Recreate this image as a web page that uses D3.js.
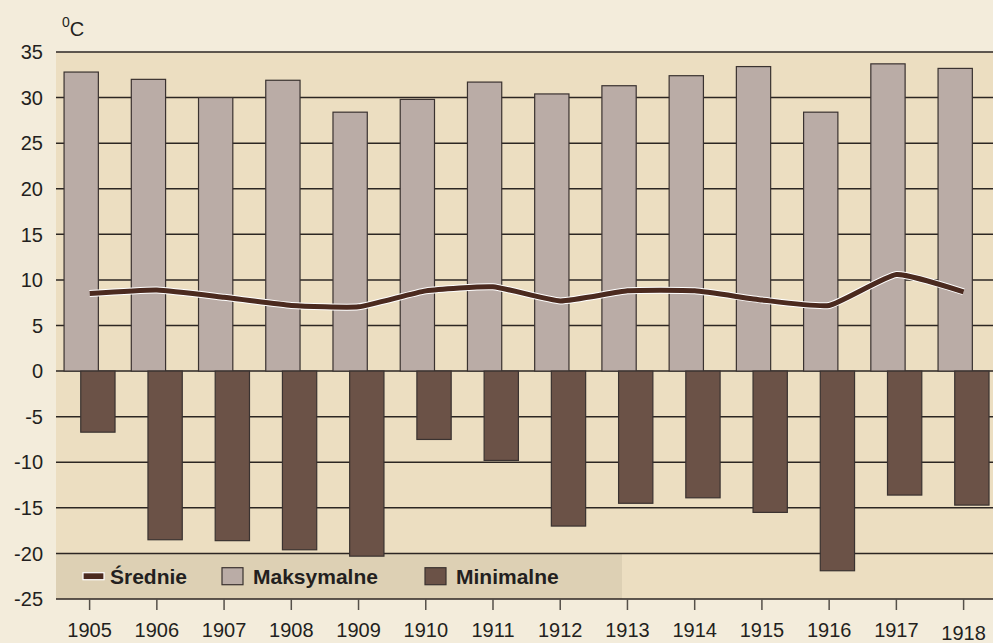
<!DOCTYPE html>
<html>
<head>
<meta charset="utf-8">
<script src="https://cdn.jsdelivr.net/npm/d3@7"></script>
<style>
    html, body { margin: 0; padding: 0; background: #f3ecdb; }
    svg { display: block; font-family: "Liberation Sans", Arial, sans-serif; }
</style>
</head>
<body>
<svg id="chart" width="993" height="643"></svg>
<script>
    // data
    const years = ['1905', '1906', '1907', '1908', '1909', '1910', '1911', '1912', '1913', '1914', '1915', '1916', '1917', '1918'];
    const maxTemps = [32.8, 32.0, 30.0, 31.9, 28.4, 29.8, 31.7, 30.4, 31.3, 32.4, 33.4, 28.4, 33.7, 33.2];
    const minTemps = [-6.7, -18.5, -18.6, -19.6, -20.3, -7.5, -9.8, -17.0, -14.5, -13.9, -15.5, -21.9, -13.6, -14.7];
    const meanTemps = [8.5, 8.9, 8.1, 7.2, 7.05, 8.8, 9.25, 7.7, 8.8, 8.8, 7.8, 7.2, 10.6, 8.7];
    const yTicks = [-25, -20, -15, -10, -5, 0, 5, 10, 15, 20, 25, 30, 35];
    const seriesNames = ['Średnie', 'Maksymalne', 'Minimalne'];
    const unitLabel = 'C';

    const colors = {
        page: '#f3ecdb',
        plot: '#ecdec1',
        legend: '#ddd0b4',
        grid: '#2c2623',
        max: '#baaca6',
        min: '#6b5247',
        mean: '#4b2a1f',
        text: '#231f20'
    };

    //#region svg setup
    const svg = d3.select('#chart');
    const W = +svg.attr('width');
    const H = +svg.attr('height');

    const chartMargins = { left: 56, top: 52, bottom: 44 };
    const step = 67.23;
    const w = step * years.length;
    const h = H - chartMargins.top - chartMargins.bottom;
    //#endregion

    //#region scales
    const xScale = d3.scaleBand()
        .domain(years)
        .range([0, w])
        .padding(0);

    const yScale = d3.scaleLinear()
        .domain([d3.min(yTicks), d3.max(yTicks)])
        .range([h, 0]);

    // max bar sits a bit left of the year tick, min bar a bit right
    const subScale = d3.scalePoint()
        .domain(['max', 'min'])
        .range([xScale.bandwidth() * 0.375, xScale.bandwidth() * 0.623]);
    const barWidth = xScale.bandwidth() * 0.51;
    //#endregion

    const rows = years.map((y, i) => ({ year: y, max: maxTemps[i], min: minTemps[i], mean: meanTemps[i] }));

    const chartGroup = svg.append('g')
        .attr('transform', `translate(${chartMargins.left},${chartMargins.top})`);

    chartGroup.append('rect')
        .attr('x', 0).attr('y', 0)
        .attr('width', W - chartMargins.left).attr('height', h)
        .attr('fill', colors.plot);

    // legend band along the bottom
    chartGroup.append('rect')
        .attr('x', 0)
        .attr('y', yScale(-20))
        .attr('width', 566)
        .attr('height', yScale(-25) - yScale(-20))
        .attr('fill', colors.legend);

    // gridlines
    chartGroup.append('g')
        .selectAll('line')
        .data(yTicks)
        .enter()
        .append('line')
        .attr('x1', 0)
        .attr('x2', W - chartMargins.left)
        .attr('y1', d => yScale(d))
        .attr('y2', d => yScale(d))
        .attr('stroke', colors.grid)
        .attr('stroke-width', 1.5);

    // y labels
    svg.append('g')
        .selectAll('text')
        .data(yTicks)
        .enter()
        .append('text')
        .attr('x', 43)
        .attr('y', d => chartMargins.top + yScale(d))
        .attr('dy', '0.36em')
        .attr('text-anchor', 'end')
        .attr('fill', colors.text)
        .style('font-size', '20px')
        .text(d => d);

    // unit label
    const unit = svg.append('text')
        .attr('x', 62)
        .attr('y', 33)
        .attr('fill', colors.text)
        .style('font-size', '20px');
    unit.append('tspan')
        .attr('dy', '-0.45em')
        .style('font-size', '14px')
        .text('0');
    unit.append('tspan')
        .attr('dy', '0.45em')
        .text(unitLabel);

    //#region bars
    const barGroups = chartGroup.append('g')
        .selectAll('g')
        .data(rows)
        .enter()
        .append('g')
        .attr('transform', d => `translate(${xScale(d.year)},0)`);

    barGroups.append('rect')
        .attr('x', subScale('max') - barWidth / 2)
        .attr('y', d => yScale(d.max))
        .attr('width', barWidth)
        .attr('height', d => yScale(0) - yScale(d.max))
        .attr('fill', colors.max)
        .attr('stroke', '#3a3230')
        .attr('stroke-width', 1.2);

    barGroups.append('rect')
        .attr('x', subScale('min') - barWidth / 2)
        .attr('y', yScale(0))
        .attr('width', barWidth)
        .attr('height', d => yScale(d.min) - yScale(0))
        .attr('fill', colors.min)
        .attr('stroke', '#3a3230')
        .attr('stroke-width', 1.2);
    //#endregion

    //#region mean line
    const line = d3.line()
        .x(d => xScale(d.year) + xScale.bandwidth() / 2)
        .y(d => yScale(d.mean))
        .curve(d3.curveCardinal.tension(0.55));

    chartGroup.append('path')
        .datum(rows)
        .attr('d', line)
        .attr('fill', 'none')
        .attr('stroke', '#ffffff')
        .attr('stroke-width', 7);

    chartGroup.append('path')
        .datum(rows)
        .attr('d', line)
        .attr('fill', 'none')
        .attr('stroke', colors.mean)
        .attr('stroke-width', 5);
    //#endregion

    //#region x axis
    const xAxis = d3.axisBottom(xScale).tickSize(11).tickPadding(13);
    const xAxisGroup = chartGroup.append('g')
        .attr('transform', `translate(0, ${h})`)
        .call(xAxis);
    xAxisGroup.select('.domain').remove();
    xAxisGroup.selectAll('.tick line')
        .attr('stroke', '#555049')
        .attr('stroke-width', 1.5);
    xAxisGroup.selectAll('.tick text')
        .attr('fill', colors.text)
        .style('font-size', '20px')
        .style('font-family', '"Liberation Sans", Arial, sans-serif')
        .attr('dy', (d, i) => i === years.length - 1 ? '0.86em' : '0.71em');
    //#endregion

    //#region legend
    const legendY = chartMargins.top + (yScale(-20) + yScale(-25)) / 2;
    const legend = svg.append('g').attr('transform', `translate(0, ${legendY})`);

    legend.append('rect')
        .attr('x', 83).attr('y', -3.5)
        .attr('width', 21).attr('height', 7)
        .attr('fill', colors.mean)
        .attr('stroke', '#ffffff')
        .attr('stroke-width', 1.2);

    legend.append('rect')
        .attr('x', 222).attr('y', -8.5)
        .attr('width', 21).attr('height', 17)
        .attr('fill', colors.max)
        .attr('stroke', '#3a3230')
        .attr('stroke-width', 1.2);

    legend.append('rect')
        .attr('x', 425).attr('y', -8.5)
        .attr('width', 21).attr('height', 17)
        .attr('fill', colors.min)
        .attr('stroke', '#3a3230')
        .attr('stroke-width', 1.2);

    legend.selectAll('text.leg')
        .data(seriesNames)
        .enter()
        .append('text')
        .classed('leg', true)
        .attr('x', (d, i) => [110, 253, 456][i])
        .attr('y', 0)
        .attr('dy', '0.36em')
        .attr('fill', colors.text)
        .style('font-size', '21px')
        .style('font-weight', 'bold')
        .text(d => d);
    //#endregion
</script>
</body>
</html>
